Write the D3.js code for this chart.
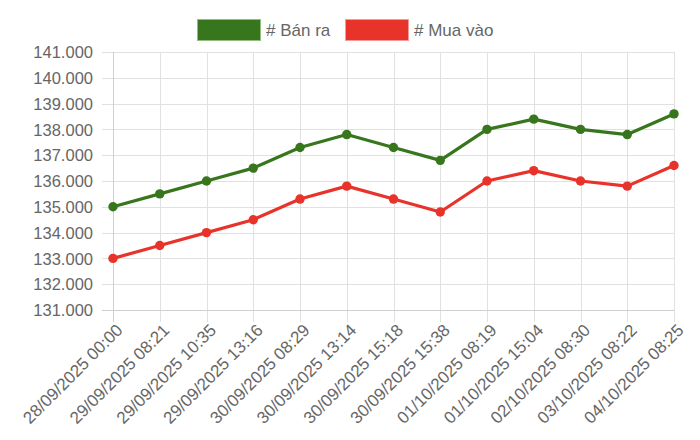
<!DOCTYPE html>
<html><head><meta charset="utf-8">
<script src="https://cdn.jsdelivr.net/npm/d3@7"></script>
<style>body{margin:0;background:#fff}svg{display:block}</style>
</head><body>
<svg id="c" width="700" height="440"></svg>
<script>
const categories = ["28/09/2025 00:00","29/09/2025 08:21","29/09/2025 10:35","29/09/2025 13:16","30/09/2025 08:29","30/09/2025 13:14","30/09/2025 15:18","30/09/2025 15:38","01/10/2025 08:19","01/10/2025 15:04","02/10/2025 08:30","03/10/2025 08:22","04/10/2025 08:25"];
const banRa = [135000,135500,136000,136500,137300,137800,137300,136800,138000,138400,138000,137800,138600];
const muaVao = [133000,133500,134000,134500,135300,135800,135300,134800,136000,136400,136000,135800,136600];
const yTicks = [131000,132000,133000,134000,135000,136000,137000,138000,139000,140000,141000];
const seriesNames = ["# Bán ra","# Mua vào"];
const seriesColors = ["#38761d","#e8332a"];

(function(){
const svg = d3.select("#c");
const font = "'Liberation Sans', Arial, Helvetica, sans-serif";
const pLeft = 113, pRight = 674, pTop = 52, pBottom = 310;
const x = d3.scalePoint().domain(categories).range([pLeft, pRight]);
const y = d3.scaleLinear().domain([131000, 141000]).range([pBottom, pTop]);

// grid
svg.append("g").selectAll("line").data(yTicks).join("line")
  .attr("x1", pLeft - 11).attr("x2", pRight).attr("y1", d => Math.round(y(d)) + 0.5).attr("y2", d => Math.round(y(d)) + 0.5)
  .attr("stroke", "#e1e1e1").attr("stroke-width", 1);
svg.append("g").selectAll("line").data(categories).join("line")
  .attr("x1", d => Math.round(x(d)) + 0.5).attr("x2", d => Math.round(x(d)) + 0.5).attr("y1", pTop).attr("y2", pBottom + 12)
  .attr("stroke", "#e1e1e1").attr("stroke-width", 1);
svg.append("line").attr("x1", pLeft - 11).attr("x2", pRight).attr("y1", pBottom + 0.5).attr("y2", pBottom + 0.5)
  .attr("stroke", "#d0d0d0");
svg.append("line").attr("x1", pLeft + 0.5).attr("x2", pLeft + 0.5).attr("y1", pTop).attr("y2", pBottom + 12)
  .attr("stroke", "#d0d0d0");

// y labels
const yAxis = d3.axisLeft(y).tickValues(yTicks).tickSize(0).tickPadding(0)
  .tickFormat(d => d3.format(",.0f")(d).replace(/,/g, "."));
const ya = svg.append("g").attr("transform", `translate(${pLeft - 20},0)`).call(yAxis);
ya.select(".domain").remove();
ya.selectAll("text").attr("font-family", font).attr("font-size", 16.5).attr("fill", "#666").attr("dy","0.35em");

// x labels rotated
const xAxis = d3.axisBottom(x).tickSize(0).tickPadding(0);
const xa = svg.append("g").attr("transform", `translate(0,${pBottom + 14})`).call(xAxis);
xa.select(".domain").remove();
xa.selectAll("text").attr("font-family", font).attr("font-size", 17).attr("fill", "#666")
  .attr("text-anchor", "end").attr("dy", "0.35em").attr("y", 0)
  .attr("transform", "translate(6,3) rotate(-45)");

// lines
const data = [banRa, muaVao];
const line = d3.line().x((d, i) => x(categories[i])).y(d => y(d));
data.forEach((s, k) => {
  svg.append("path").datum(s).attr("d", line).attr("fill", "none")
    .attr("stroke", seriesColors[k]).attr("stroke-width", 3.2).attr("stroke-linejoin","round");
  svg.append("g").selectAll("circle").data(s).join("circle")
    .attr("cx", (d, i) => x(categories[i])).attr("cy", d => y(d)).attr("r", 4.7)
    .attr("fill", seriesColors[k]);
});

// legend
const lg = svg.append("g");
const legendX = [197, 345];
seriesNames.forEach((n, k) => {
  lg.append("rect").attr("x", legendX[k] + 0.5).attr("y", 19.5).attr("width", 63).attr("height", 21)
    .attr("fill", seriesColors[k]).attr("stroke", k === 0 ? "#8fbf7d" : "#f59a95").attr("stroke-width", 1);
  lg.append("text").attr("x", legendX[k] + 69).attr("y", 30).attr("dy","0.35em")
    .attr("font-family", font).attr("font-size", 17).attr("fill", "#666").text(n);
});
})();
</script>
</body></html>
